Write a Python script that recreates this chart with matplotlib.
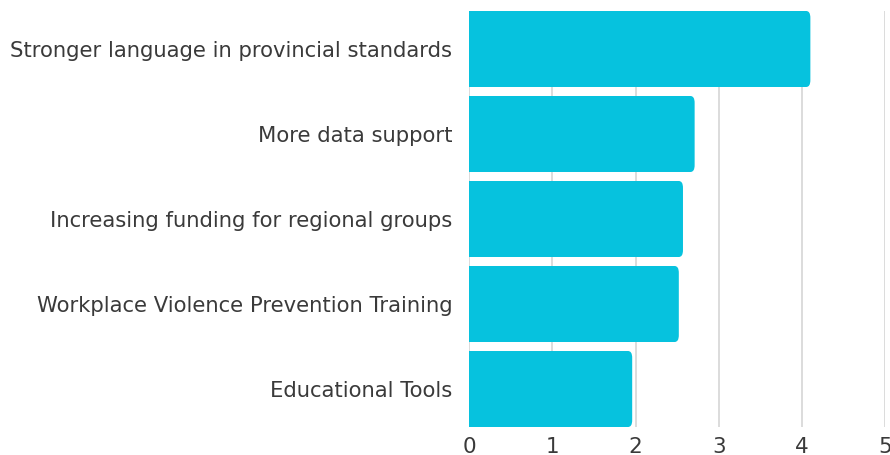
import matplotlib
matplotlib.use("Agg")
import matplotlib.pyplot as plt
from matplotlib.patches import FancyBboxPatch

categories = ["Stronger language in provincial standards", "More data support",
              "Increasing funding for regional groups", "Workplace Violence Prevention Training",
              "Educational Tools"]
values = [4.10, 2.71, 2.57, 2.52, 1.96]
xticks = [0, 1, 2, 3, 4, 5]

plt.rcParams['font.family'] = ['DejaVu Sans']

W, H = 890, 455
fig = plt.figure(figsize=(W/100, H/100), dpi=100)
ax = fig.add_axes([469/W, 1 - 427/H, (885.3-469)/W, (427-11)/H])

bar_color = "#06C2DE"
h = 0.894
for i, v in enumerate(values):
    ax.barh(i, v, height=h, color=bar_color, zorder=0, alpha=0)
    p = FancyBboxPatch((0, i - h/2), v, h,
                       boxstyle="round,pad=0,rounding_size=0.05",
                       mutation_aspect=1.6,
                       facecolor=bar_color, edgecolor="none", zorder=3)
    ax.add_patch(p)
    ax.add_patch(plt.Rectangle((0, i - h/2), min(v, 0.2), h, facecolor=bar_color,
                               edgecolor="none", zorder=3))

ax.set_xlim(0, 5)
ax.set_ylim(4.447, -0.447)
ax.set_yticks(range(len(categories)))
ax.set_yticklabels(categories)
ax.set_xticks(xticks)
ax.set_xticklabels([str(t) for t in xticks])
ax.grid(axis="x", color="#D9D9D9", linewidth=1.3, zorder=0)
ax.set_axisbelow(True)
for s in ax.spines.values():
    s.set_visible(False)
ax.tick_params(axis="y", length=0, pad=12, labelsize=15.2, labelcolor="#3A3A3A")
ax.tick_params(axis="x", length=0, pad=7, labelsize=15.5, labelcolor="#3A3A3A")

fig.savefig("out.png", dpi=100)
